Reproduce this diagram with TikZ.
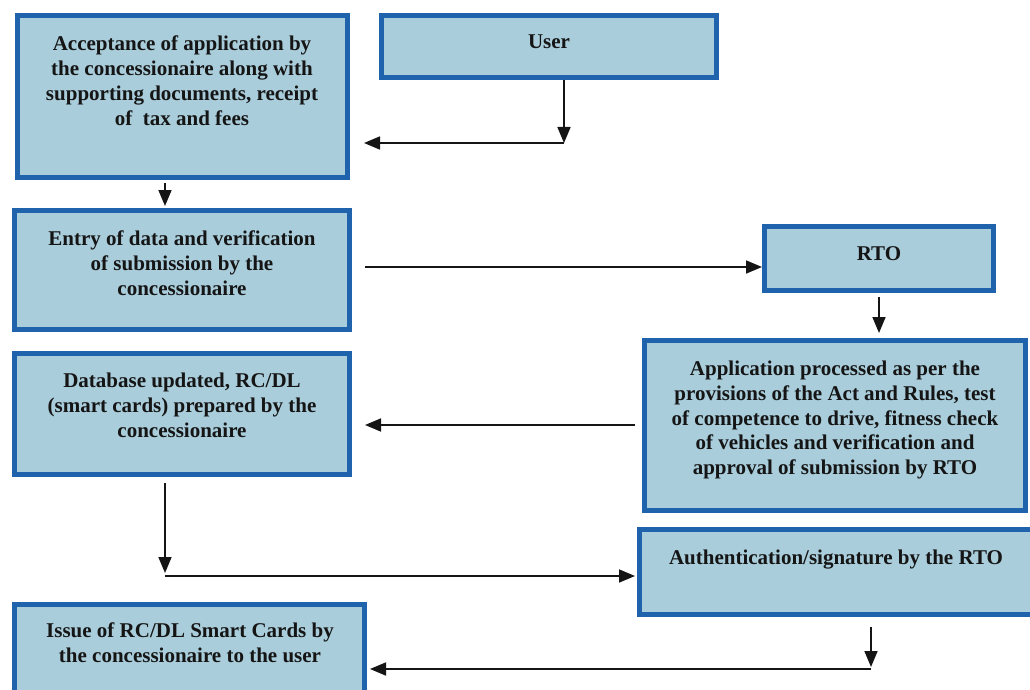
\documentclass[tikz,border=0pt]{standalone}
\usepackage{fontspec}
\setmainfont{Liberation Serif}
\usetikzlibrary{arrows.meta}
\definecolor{boxfill}{HTML}{A9CDDB}
\definecolor{boxline}{HTML}{1E63AC}
\definecolor{ink}{HTML}{151515}
\begin{document}
\begin{tikzpicture}[x=1pt,y=-1pt,
  box/.style={draw=boxline, fill=boxfill, line width=5pt, inner sep=0pt, rectangle},
  txt/.style={anchor=north, align=center, inner sep=0pt, text=ink,
              font=\fontsize{21}{24.7}\selectfont\bfseries},
  arr/.style={draw=ink, line width=1.7pt, -{Triangle[length=16pt,width=13pt]}}]
\useasboundingbox[fill=white] (0,0) rectangle (1030,690);

% boxes
\node[box, minimum width=330pt, minimum height=162pt] (b1)    at (182.5,96.5) {};
\node[box, minimum width=335pt, minimum height=62pt]  (user)  at (549,46.5)   {};
\node[box, minimum width=335pt, minimum height=119pt] (b2)    at (182,270)    {};
\node[box, minimum width=229pt, minimum height=64pt]  (rto)   at (879,258.5)  {};
\node[box, minimum width=381pt, minimum height=170pt] (app)   at (835,425.5)  {};
\node[box, minimum width=335pt, minimum height=121pt] (db)    at (182,414)    {};
\node[box, minimum width=393pt, minimum height=85pt]  (auth)  at (836,572)    {};
\node[box, minimum width=350pt, minimum height=93pt]  (issue) at (189.5,651)  {};

% texts
\node[txt] (t1) at (182,36) {Acceptance of application by\\the concessionaire along with\\supporting documents, receipt\\of \ tax and fees};
\node[txt] (tu) at (549,35) {User};
\node[txt] (t2) at (182,231) {Entry of data and verification\\of submission by the\\concessionaire};
\node[txt] (tr) at (879,246) {RTO};
\node[txt] (ta) at (835,361) {Application processed as per the\\provisions of the Act and Rules, test\\of competence to drive, fitness check\\of vehicles and verification and\\approval of submission by RTO};
\node[txt] (td) at (182,373) {Database updated, RC/DL\\(smart cards) prepared by the\\concessionaire};
\node[txt] (tx) at (836,550) {Authentication/signature by the RTO};
\node[txt] (ti) at (190,623) {Issue of RC/DL Smart Cards by\\the concessionaire to the user};

% connectors
\coordinate (k1) at (564,143);
\draw[arr] (user.south -| k1) -- (k1);
\draw[arr, shorten >=14pt] (k1) -- (b1.east |- k1);

\coordinate (cx) at (165,0);
\draw[arr, shorten <=3pt, shorten >=2pt] (b1.south -| cx) -- (b2.north -| cx);

\coordinate (k2) at (0,267);
\draw[arr, shorten <=13pt] (b2.east |- k2) -- (rto.west |- k2);

\draw[arr, shorten <=4pt, shorten >=5pt] (rto.south) -- (rto.south |- app.north);

\coordinate (k3) at (0,425);
\draw[arr, shorten <=7pt, shorten >=13pt] (app.west |- k3) -- (db.east |- k3);

\coordinate (k4) at (165,576);
\draw[arr, shorten <=6pt, shorten >=3pt] (db.south -| k4) -- (k4);
\draw[arr, shorten >=2pt] (k4) -- (auth.west |- k4);

\coordinate (k5) at (871,669);
\draw[arr, shorten <=10pt, shorten >=2pt] (auth.south -| k5) -- (k5);
\draw[arr, shorten >=3pt] (k5) -- (issue.east |- k5);
\end{tikzpicture}
\end{document}
